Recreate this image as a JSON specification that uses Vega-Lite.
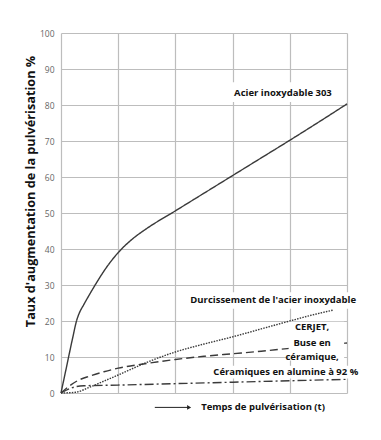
{
  "$schema": "https://vega.github.io/schema/vega-lite/v6.json",
  "autosize": {"type": "none"},
  "padding": {"left": 61, "top": 33, "right": 34, "bottom": 47},
  "width": 286,
  "height": 360,
  "background": "white",
  "config": {
    "view": {"stroke": null},
    "font": "Open Sans"
  },
  "datasets": {
    "curves": [
      {"series": "Acier inoxydable 303", "x": 0, "y": 0},
      {"series": "Acier inoxydable 303", "x": 0.1, "y": 7.5},
      {"series": "Acier inoxydable 303", "x": 0.2, "y": 15},
      {"series": "Acier inoxydable 303", "x": 0.28, "y": 20.5},
      {"series": "Acier inoxydable 303", "x": 0.32, "y": 22.2},
      {"series": "Acier inoxydable 303", "x": 0.4, "y": 24.6},
      {"series": "Acier inoxydable 303", "x": 0.5, "y": 27.4},
      {"series": "Acier inoxydable 303", "x": 0.62, "y": 30.6},
      {"series": "Acier inoxydable 303", "x": 0.8, "y": 35},
      {"series": "Acier inoxydable 303", "x": 1, "y": 39},
      {"series": "Acier inoxydable 303", "x": 1.25, "y": 42.8},
      {"series": "Acier inoxydable 303", "x": 1.5, "y": 45.7},
      {"series": "Acier inoxydable 303", "x": 2, "y": 50.6},
      {"series": "Acier inoxydable 303", "x": 2.5, "y": 55.5},
      {"series": "Acier inoxydable 303", "x": 3, "y": 60.4},
      {"series": "Acier inoxydable 303", "x": 3.5, "y": 65.3},
      {"series": "Acier inoxydable 303", "x": 4, "y": 70.2},
      {"series": "Acier inoxydable 303", "x": 4.5, "y": 75.2},
      {"series": "Acier inoxydable 303", "x": 5, "y": 80.3},
      {"series": "Durcissement", "x": 0, "y": 0},
      {"series": "Durcissement", "x": 0.25, "y": 0.2},
      {"series": "Durcissement", "x": 0.5, "y": 1.6},
      {"series": "Durcissement", "x": 0.75, "y": 3.3},
      {"series": "Durcissement", "x": 1, "y": 5},
      {"series": "Durcissement", "x": 1.5, "y": 8.5},
      {"series": "Durcissement", "x": 2, "y": 11.4},
      {"series": "Durcissement", "x": 2.5, "y": 13.6},
      {"series": "Durcissement", "x": 3, "y": 15.6},
      {"series": "Durcissement", "x": 3.5, "y": 17.8},
      {"series": "Durcissement", "x": 4, "y": 20},
      {"series": "Durcissement", "x": 4.4, "y": 21.7},
      {"series": "Durcissement", "x": 4.75, "y": 23},
      {"series": "CERJET", "x": 0, "y": 0},
      {"series": "CERJET", "x": 0.15, "y": 2},
      {"series": "CERJET", "x": 0.3, "y": 3.5},
      {"series": "CERJET", "x": 0.5, "y": 4.7},
      {"series": "CERJET", "x": 0.75, "y": 5.9},
      {"series": "CERJET", "x": 1, "y": 6.9},
      {"series": "CERJET", "x": 1.5, "y": 8.2},
      {"series": "CERJET", "x": 2, "y": 9.3},
      {"series": "CERJET", "x": 2.5, "y": 10.2},
      {"series": "CERJET", "x": 3, "y": 10.9},
      {"series": "CERJET", "x": 3.5, "y": 11.6},
      {"series": "CERJET", "x": 4, "y": 12.4},
      {"series": "CERJET", "x": 4.5, "y": 13.1},
      {"series": "CERJET", "x": 5, "y": 13.9},
      {"series": "Alumine", "x": 0, "y": 0},
      {"series": "Alumine", "x": 0.2, "y": 1.5},
      {"series": "Alumine", "x": 0.4, "y": 2},
      {"series": "Alumine", "x": 1, "y": 2.2},
      {"series": "Alumine", "x": 2, "y": 2.6},
      {"series": "Alumine", "x": 3, "y": 3},
      {"series": "Alumine", "x": 4, "y": 3.4},
      {"series": "Alumine", "x": 5, "y": 3.8}
    ],
    "boxes": [
      {"x": 2.95, "x2": 4.8, "y": 80.8, "y2": 86.3},
      {"x": 2.1, "x2": 5.3, "y": 23.4, "y2": 28.0},
      {"x": 3.98, "x2": 4.95, "y": 9.0, "y2": 19.8},
      {"x": 2.55, "x2": 5.3, "y": 4.0, "y2": 7.6}
    ],
    "labels": [
      {"label": "Acier inoxydable 303", "x": 3.88, "y": 83.2},
      {"label": "Durcissement de l'acier inoxydable", "x": 3.71, "y": 25.8},
      {"label": "CERJET,", "x": 4.39, "y": 18.3},
      {"label": "Buse en", "x": 4.39, "y": 13.8},
      {"label": "céramique,", "x": 4.39, "y": 9.9},
      {"label": "Céramiques en alumine à 92 %", "x": 3.93, "y": 5.8}
    ],
    "xtitle": [
      {"label": "Temps de pulvérisation (t)", "x": 2.45, "y": -4.0}
    ],
    "arrow": [
      {"x": 1.64, "x2": 2.24, "y": -4.0}
    ],
    "arrowhead": [
      {"x": 2.24, "y": -4.0}
    ]
  },
  "encoding": {
    "x": {
      "field": "x", "type": "quantitative",
      "scale": {"domain": [0, 5], "nice": false, "zero": false},
      "axis": {"values": [0, 1, 2, 3, 4, 5], "labels": false, "ticks": false, "domain": false, "title": null, "grid": true, "gridColor": "#bdbdbd", "gridWidth": 1.2}
    },
    "y": {
      "field": "y", "type": "quantitative",
      "scale": {"domain": [0, 100], "nice": false, "zero": false},
      "axis": {
        "values": [0, 10, 20, 30, 40, 50, 60, 70, 80, 90, 100],
        "labelOverlap": false,
        "ticks": false, "domain": false, "grid": true, "gridColor": "#bdbdbd", "gridWidth": 1.2,
        "labelFont": "Open Sans", "labelFontSize": 8.5, "labelColor": "#666666", "labelPadding": 7,
        "title": "Taux d'augmentation de la pulvérisation %",
        "titleFont": "Open Sans", "titleFontSize": 12.7, "titleFontWeight": "bold", "titleColor": "#111111",
        "titlePadding": 2, "titleY": 158
      }
    }
  },
  "layer": [
    {
      "data": {"name": "curves"},
      "mark": {"type": "line", "interpolate": "monotone", "color": "#3a3a3a", "strokeWidth": 1.4, "clip": false},
      "encoding": {
        "detail": {"field": "series"},
        "strokeDash": {
          "field": "series", "type": "nominal",
          "scale": {
            "domain": ["Acier inoxydable 303", "Durcissement", "CERJET", "Alumine"],
            "range": [[1, 0], [1.5, 1.2], [8, 4], [9, 3, 2, 3]]
          },
          "legend": null
        }
      }
    },
    {
      "data": {"name": "boxes"},
      "mark": {"type": "rect", "color": "white", "clip": false},
      "encoding": {
        "x2": {"field": "x2"},
        "y2": {"field": "y2"}
      }
    },
    {
      "data": {"name": "labels"},
      "mark": {"type": "text", "font": "Open Sans", "fontSize": 9.5, "fontWeight": "bold", "color": "#111111", "baseline": "middle", "align": "center", "clip": false},
      "encoding": {
        "text": {"field": "label"}
      }
    },
    {
      "data": {"name": "xtitle"},
      "mark": {"type": "text", "font": "Open Sans", "fontSize": 9.5, "fontWeight": "bold", "color": "#111111", "baseline": "middle", "align": "left", "clip": false},
      "encoding": {
        "text": {"field": "label"}
      }
    },
    {
      "data": {"name": "arrow"},
      "mark": {"type": "rule", "color": "#222222", "strokeWidth": 1, "clip": false},
      "encoding": {
        "x2": {"field": "x2"}
      }
    },
    {
      "data": {"name": "arrowhead"},
      "mark": {"type": "point", "shape": "triangle-right", "filled": true, "color": "#222222", "size": 22, "opacity": 1, "clip": false},
      "encoding": {}
    }
  ]
}
